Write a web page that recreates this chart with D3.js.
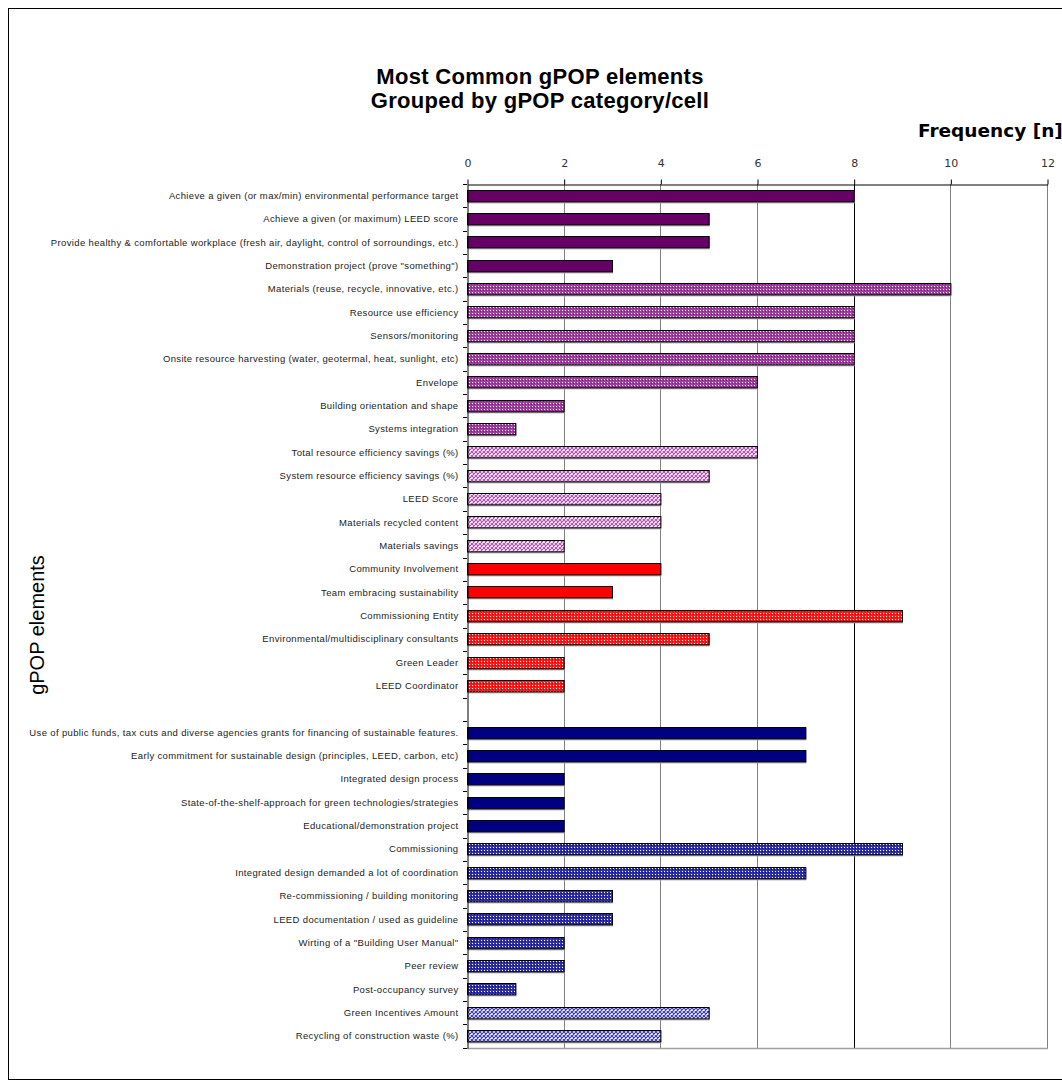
<!DOCTYPE html>
<html>
<head>
<meta charset="utf-8">
<script src="https://cdn.jsdelivr.net/npm/d3@7"></script>
<style>
  body { margin: 0; background: #fff; overflow: hidden; }
  svg { display: block; }
  .cat text { font-family: "Liberation Sans", Arial, sans-serif; font-size: 9.5px; letter-spacing: 0.35px; fill: #222; }
  .xax text { font-family: "DejaVu Sans", Verdana, sans-serif; font-size: 11px; fill: #333; }
</style>
</head>
<body>
<div id="chart"></div>
<script>
// gPOP elements, top to bottom (blank row separates the two blocks)
var elements = [
  "Achieve a given (or max/min) environmental performance target",
  "Achieve a given (or maximum) LEED score",
  "Provide healthy & comfortable workplace (fresh air, daylight, control of sorroundings, etc.)",
  "Demonstration project (prove \"something\")",
  "Materials (reuse, recycle, innovative, etc.)",
  "Resource use efficiency",
  "Sensors/monitoring",
  "Onsite resource harvesting (water, geotermal, heat, sunlight, etc)",
  "Envelope",
  "Building orientation and shape",
  "Systems integration",
  "Total resource efficiency savings (%)",
  "System resource efficiency savings (%)",
  "LEED Score",
  "Materials recycled content",
  "Materials savings",
  "Community Involvement",
  "Team embracing sustainability",
  "Commissioning Entity",
  "Environmental/multidisciplinary consultants",
  "Green Leader",
  "LEED Coordinator",
  "",
  "Use of public funds, tax cuts and diverse agencies grants for financing of sustainable features.",
  "Early commitment for sustainable design (principles, LEED, carbon, etc)",
  "Integrated design process",
  "State-of-the-shelf-approach for green technologies/strategies",
  "Educational/demonstration project",
  "Commissioning",
  "Integrated design demanded a lot of coordination",
  "Re-commissioning / building monitoring",
  "LEED documentation / used as guideline",
  "Wirting of a \"Building User Manual\"",
  "Peer review",
  "Post-occupancy survey",
  "Green Incentives Amount",
  "Recycling of construction waste (%)"
];

var frequency = [8, 5, 5, 3, 10, 8, 8, 8, 6, 2, 1, 6, 5, 4, 4, 2, 4, 3, 9, 5, 2, 2, null,
                 7, 7, 2, 2, 2, 9, 7, 3, 3, 2, 2, 1, 5, 4];

// gPOP category/cell of each element
var cell = ["p1","p1","p1","p1","p2","p2","p2","p2","p2","p2","p2","p3","p3","p3","p3","p3",
            "r1","r1","r2","r2","r2","r2","",
            "b1","b1","b1","b1","b1","b2","b2","b2","b2","b2","b2","b2","b3","b3"];

var xTicks = [0, 2, 4, 6, 8, 10, 12];

var svg = d3.select("#chart").append("svg")
  .attr("width", 1062)
  .attr("height", 1089);

// patterns for the cells
var defs = svg.append("defs");

function dotted(id, base, dark) {
  var p = defs.append("pattern").attr("id", id)
    .attr("patternUnits", "userSpaceOnUse").attr("width", 3).attr("height", 3);
  p.append("rect").attr("width", 3).attr("height", 3).attr("fill", base);
  p.append("rect").attr("x", 0).attr("y", 2).attr("width", 1).attr("height", 1).attr("fill", dark);
  p.append("rect").attr("x", 1).attr("y", 1).attr("width", 1).attr("height", 1).attr("fill", "#fff");
}
function hatched(id, col) {
  var p = defs.append("pattern").attr("id", id)
    .attr("patternUnits", "userSpaceOnUse").attr("width", 4).attr("height", 4);
  p.append("rect").attr("width", 4).attr("height", 4).attr("fill", "#fff");
  p.append("path").attr("d", "M0,0L4,4M4,0L0,4").attr("stroke", col).attr("stroke-width", 1.2);
}
dotted("p2", "#a33ca3", "#7a1f7a");
hatched("p3", "#b050b0");
dotted("r2", "#ff1a1a", "#d00000");
dotted("b2", "#3030a8", "#10108a");
hatched("b3", "#3a3ab0");

var fills = {
  p1: "#660066", p2: "url(#p2)", p3: "url(#p3)",
  r1: "#ff0000", r2: "url(#r2)",
  b1: "#000080", b2: "url(#b2)", b3: "url(#b3)"
};

var plotLeft = 467, plotRight = 1047, plotTop = 184, plotBottom = 1048;

var x = d3.scaleLinear().domain([0, 12]).range([plotLeft, plotRight]);
var y = d3.scaleBand()
  .domain(d3.range(elements.length))
  .range([plotTop, plotBottom])
  .paddingInner(0.47)
  .paddingOuter(0.24);

// outer frame
svg.append("rect")
  .attr("x", 8.5).attr("y", 8.5)
  .attr("width", 1100).attr("height", 1071)
  .attr("fill", "none").attr("stroke", "#000");

// gridlines
svg.append("g").selectAll("line")
  .data(xTicks.slice(1))
  .join("line")
  .attr("x1", d => Math.round(x(d)) + 0.5).attr("x2", d => Math.round(x(d)) + 0.5)
  .attr("y1", plotTop).attr("y2", plotBottom)
  .attr("stroke", d => d == 8 ? "#000" : "#808080");

// plot bottom border
svg.append("line")
  .attr("x1", plotLeft).attr("x2", plotRight + 1)
  .attr("y1", plotBottom + 0.5).attr("y2", plotBottom + 0.5)
  .attr("stroke", "#a0a0a0").attr("stroke-width", 1.5);

// bars
var rows = elements.map((e, i) => ({ i: i, name: e, n: frequency[i], cell: cell[i] }))
  .filter(d => d.n != null);

var bars = svg.append("g");
bars.selectAll(".shadow")
  .data(rows)
  .join("rect")
  .attr("class", "shadow")
  .attr("x", x(0) + 1)
  .attr("y", d => Math.round(y(d.i)) + 1)
  .attr("width", d => x(d.n) - x(0))
  .attr("height", y.bandwidth())
  .attr("fill", "#a8a8a8");

bars.selectAll(".bar")
  .data(rows)
  .join("rect")
  .attr("class", "bar")
  .attr("x", x(0) + 0.5)
  .attr("y", d => Math.round(y(d.i)) + 0.5)
  .attr("width", d => x(d.n) - x(0))
  .attr("height", y.bandwidth() - 1)
  .attr("fill", d => fills[d.cell])
  .attr("stroke", "#000")
  .attr("stroke-width", 1);

// top axis
var xAxis = svg.append("g")
  .attr("class", "xax")
  .attr("transform", `translate(0.5,${plotTop + 0.5})`)
  .call(d3.axisTop(x).tickValues(xTicks).tickSize(5).tickSizeOuter(0).tickPadding(13));
xAxis.select(".domain").attr("stroke", "#000");
xAxis.selectAll(".tick line").attr("stroke", "#000");

// left axis with labels
var yAxis = svg.append("g")
  .attr("class", "cat")
  .attr("transform", `translate(${plotLeft + 0.5},0)`)
  .call(d3.axisLeft(y).tickFormat(i => elements[i]).tickSize(0).tickPadding(9));
yAxis.select(".domain").attr("stroke", "#000");

// category boundary ticks
svg.append("g").selectAll("line")
  .data(d3.range(elements.length + 1))
  .join("line")
  .attr("x1", plotLeft - 4).attr("x2", plotLeft)
  .attr("y1", i => Math.round(plotTop + i * y.step()) + 0.5)
  .attr("y2", i => Math.round(plotTop + i * y.step()) + 0.5)
  .attr("stroke", "#000");

// titles
svg.append("text")
  .attr("x", 540).attr("y", 84)
  .attr("text-anchor", "middle")
  .style("font-family", "Liberation Sans, Arial, sans-serif")
  .style("font-size", "22px").style("font-weight", "bold")
  .style("letter-spacing", "0.3px")
  .text("Most Common gPOP elements");
svg.append("text")
  .attr("x", 540).attr("y", 108)
  .attr("text-anchor", "middle")
  .style("font-family", "Liberation Sans, Arial, sans-serif")
  .style("font-size", "22px").style("font-weight", "bold")
  .style("letter-spacing", "0.3px")
  .text("Grouped by gPOP category/cell");

svg.append("text")
  .attr("x", 918).attr("y", 137)
  .style("font-family", "DejaVu Sans, Verdana, sans-serif")
  .style("font-size", "18.5px").style("font-weight", "bold")
  .text("Frequency [n]");

svg.append("text")
  .attr("transform", "translate(44,625) rotate(-90)")
  .attr("text-anchor", "middle")
  .style("font-family", "Liberation Sans, Arial, sans-serif")
  .style("font-size", "20px")
  .text("gPOP elements");
</script>
</body>
</html>
